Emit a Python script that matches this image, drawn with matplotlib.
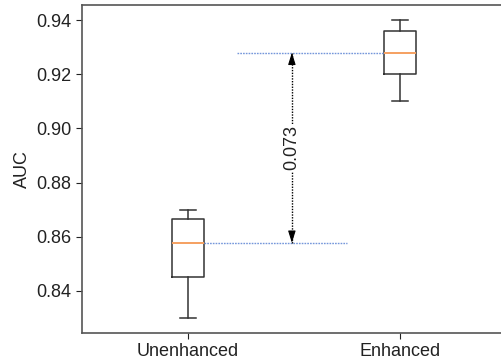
import matplotlib
matplotlib.use("Agg")
import matplotlib.pyplot as plt

categories = ["Unenhanced", "Enhanced"]
whislo = [0.830, 0.910]
q1 = [0.845, 0.920]
med = [0.8577, 0.928]
q3 = [0.8665, 0.936]
whishi = [0.870, 0.940]
diff_label = "0.073"
yticks = [0.84, 0.86, 0.88, 0.90, 0.92, 0.94]

plt.rcParams['font.family'] = ['Liberation Sans', 'DejaVu Sans']

fig = plt.figure(figsize=(5.02, 3.63), dpi=100)
ax = fig.add_axes([82/502, 30/363, 424/502, 328/363])

stats = []
for i, c in enumerate(categories):
    stats.append(dict(label=c, whislo=whislo[i], q1=q1[i], med=med[i], q3=q3[i], whishi=whishi[i], fliers=[]))

ax.bxp(stats, positions=[1, 2], widths=0.15, showfliers=False,
       boxprops=dict(color="#333333", linewidth=1.1),
       whiskerprops=dict(color="#333333", linewidth=1.1),
       capprops=dict(color="#333333", linewidth=1.1),
       medianprops=dict(color="#F5A060", linewidth=1.4))

blue = "#7496DA"
ax.plot([1.231, 1.925], [med[1], med[1]], linestyle=(0, (1.2, 0.8)), color=blue, linewidth=1.0)
ax.plot([1.075, 1.75], [med[0], med[0]], linestyle=(0, (1.2, 0.8)), color=blue, linewidth=1.0)

# dotted double arrow between medians
ax.plot([1.49, 1.49], [med[0], med[1]], linestyle=(0, (1, 1)), color="black", linewidth=1.0)
for tip, tail in [(med[1], med[1] - 0.003), (med[0], med[0] + 0.003)]:
    ax.annotate("", xy=(1.49, tip), xytext=(1.49, tail),
                arrowprops=dict(arrowstyle="-|>,head_length=0.8,head_width=0.25",
                                color="black", linewidth=0.8, mutation_scale=9,
                                shrinkA=0, shrinkB=0))
ax.text(1.49, (med[0] + med[1]) / 2, diff_label, rotation=90, ha="center", va="center",
        fontsize=13, color="#222222",
        bbox=dict(facecolor="white", edgecolor="none", pad=1))

ax.set_xlim(0.5, 2.5)
ax.set_ylim(0.8244, 0.9456)
ax.set_yticks(yticks)
ax.set_yticklabels([f"{t:.2f}" for t in yticks])
ax.set_xticks([1, 2])
ax.set_xticklabels(categories)
ax.set_ylabel("AUC", fontsize=13, color="#222222")
ax.tick_params(labelsize=13, colors="#222222", length=4, width=0.8)
for s in ["top", "left", "bottom"]:
    ax.spines[s].set_color("#555555")
    ax.spines[s].set_linewidth(1.2)
ax.spines["right"].set_visible(False)

fig.savefig("out.png", dpi=100)
